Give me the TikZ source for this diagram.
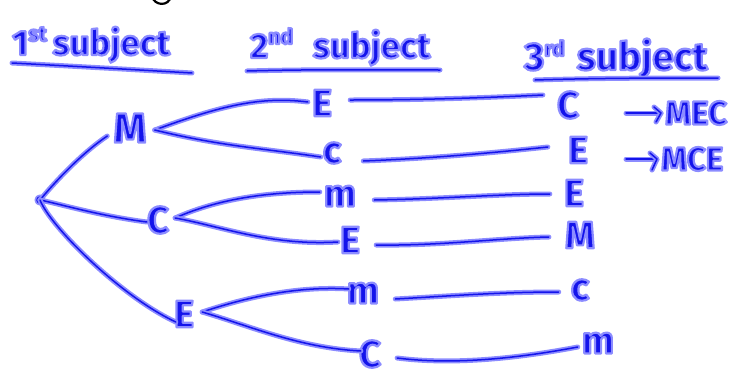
\documentclass[tikz,border=0pt]{standalone}
\usepackage{fontspec}
\setmainfont{Fira Sans}
\definecolor{inkc}{RGB}{20,20,235}
\definecolor{haloc}{RGB}{140,140,255}
\newcommand{\hw}[1]{{\special{pdf:literal direct 0.55 0.55 1 RG 2.2 w 1 j 2 Tr}#1\special{pdf:literal direct 0 Tr}}}
\newcommand{\hsup}[1]{\raisebox{14pt}{\fontsize{21}{21}\selectfont\hw{#1}}}
\tikzset{
  ink/.style={draw=inkc, line width=1.5pt, line cap=round, line join=round,
    preaction={draw=haloc, line width=5pt, line cap=round, line join=round}},
  lbl/.style={text=inkc, font=\fontsize{38}{38}\selectfont\bfseries, inner sep=2pt},
  head/.style={text=inkc, font=\fontsize{35}{35}\selectfont\bfseries, inner sep=0pt, anchor=base west},
  res/.style={text=inkc, font=\fontsize{33}{33}\selectfont\bfseries, inner sep=1pt, anchor=west},
}
\begin{document}
\begin{tikzpicture}[x=1pt,y=1pt]
\useasboundingbox (0,0) rectangle (738,376);
\clip (0,0) rectangle (738,376);
% fragment of a letter above the picture
\draw[black, line width=2.2pt] (152,380) .. controls (154,370) and (169,369) .. (171,380);
% headings
\node[head] (h1) at (12,321) {\hw{1}\hsup{st}\hspace{6pt}\hw{subject}};
\node[head] (h2) at (250,318) {\hw{2}\hsup{nd}\hspace{20pt}\hw{subject}};
\node[head, font=\fontsize{39}{39}\selectfont\bfseries] (h3) at (524,306) {\hw{3}\hsup{rd}\hspace{12pt}\hw{subject}};
\draw[ink] (12,313) .. controls (70,310) and (140,306) .. (192,303);
\draw[ink] (247,305) .. controls (320,307) and (390,306) .. (440,306);
\draw[ink] (535,296) .. controls (600,298) and (660,298) .. (718,298);
% root
\coordinate (root) at (40,176);
\draw[ink] (root) circle (3pt);
% level 1
\node[lbl, font=\fontsize{42}{42}\selectfont\bfseries] (M1) at (130,248) {\hw{M}};
\node[lbl] (C1) at (158,156) {\hw{C}};
\node[lbl] (E1) at (184,62) {\hw{E}};
% level 2
\node[lbl] (E2) at (322,273) {\hw{E}};
\node[lbl] (c2) at (332,223) {\hw{c}};
\node[lbl] (m2) at (340,180) {\hw{m}};
\node[lbl] (E3) at (350,136) {\hw{E}};
\node[lbl] (m3) at (363,83) {\hw{m}};
\node[lbl] (C3) at (370,22) {\hw{C}};
% level 3
\node[lbl] (r1) at (568,271) {\hw{C}};
\node[lbl] (r2) at (578,226) {\hw{E}};
\node[lbl] (r3) at (574,183) {\hw{E}};
\node[lbl] (r4) at (580,141) {\hw{M}};
\node[lbl] (r5) at (580,86) {\hw{c}};
\node[lbl] (r6) at (598,33) {\hw{m}};
% results
\node[res] (t1) at (664,263) {\hw{MEC}};
\node[res] (t2) at (660,217) {\hw{MCE}};
\draw[ink] ([xshift=-38pt]t1.west) -- ([xshift=-3pt]t1.west);
\draw[ink] ([xshift=-10pt,yshift=6pt]t1.west) -- ([xshift=-3pt]t1.west) -- ([xshift=-8pt,yshift=-9pt]t1.west);
\draw[ink] ([xshift=-34pt]t2.west) -- ([xshift=-3pt]t2.west);
\draw[ink] ([xshift=-10pt,yshift=6pt]t2.west) -- ([xshift=-3pt]t2.west) -- ([xshift=-8pt,yshift=-11pt]t2.west);
% root edges
\draw[ink] (root) .. controls (60,200) and (85,225) .. ([xshift=-4pt,yshift=-8pt]M1.west);
\draw[ink] (root) .. controls (60,172) and (100,160) .. ([xshift=2pt,yshift=-2pt]C1.west);
\draw[ink] (root) .. controls (50,150) and (120,80) .. ([xshift=4pt,yshift=-8pt]E1.west);
% level 1 forks
\draw[ink] ([xshift=6pt,yshift=-2pt]M1.east) .. controls (220,270) and (260,280) .. ([xshift=-2pt,yshift=1pt]E2.west);
\draw[ink] ([xshift=6pt,yshift=-2pt]M1.east) .. controls (220,230) and (260,228) .. ([xshift=0pt,yshift=-4pt]c2.west);
\draw[ink] ([xshift=4pt,yshift=2pt]C1.east) .. controls (220,178) and (270,184) .. ([xshift=-2pt,yshift=4pt]m2.west);
\draw[ink] ([xshift=4pt,yshift=2pt]C1.east) .. controls (220,150) and (270,130) .. ([xshift=0pt,yshift=-2pt]E3.west);
\draw[ink] ([xshift=6pt,yshift=2pt]E1.east) .. controls (250,80) and (300,90) .. ([xshift=4pt,yshift=4pt]m3.west);
\draw[ink] ([xshift=6pt,yshift=2pt]E1.east) .. controls (250,50) and (300,28) .. ([xshift=4pt,yshift=3pt]C3.west);
% level 2 to level 3
\draw[ink] ([xshift=16pt,yshift=3pt]E2.east) .. controls (420,276) and (480,278) .. ([xshift=-12pt,yshift=10pt]r1.west);
\draw[ink] ([xshift=20pt,yshift=-8pt]c2.east) .. controls (440,218) and (500,224) .. ([xshift=-18pt,yshift=3pt]r2.west);
\draw[ink] ([xshift=16pt,yshift=-4pt]m2.east) .. controls (440,177) and (500,182) .. ([xshift=-12pt,yshift=-1pt]r3.west);
\draw[ink] ([xshift=14pt,yshift=-5pt]E3.east) .. controls (440,130) and (500,138) .. ([xshift=-14pt,yshift=-2pt]r4.west);
\draw[ink] ([xshift=14pt,yshift=-6pt]m3.east) .. controls (450,80) and (500,84) .. ([xshift=-10pt,yshift=-2pt]r5.west);
\draw[ink] ([xshift=14pt,yshift=-4pt]C3.east) .. controls (460,10) and (530,20) .. ([xshift=-2pt,yshift=-4pt]r6.west);
\end{tikzpicture}
\end{document}
